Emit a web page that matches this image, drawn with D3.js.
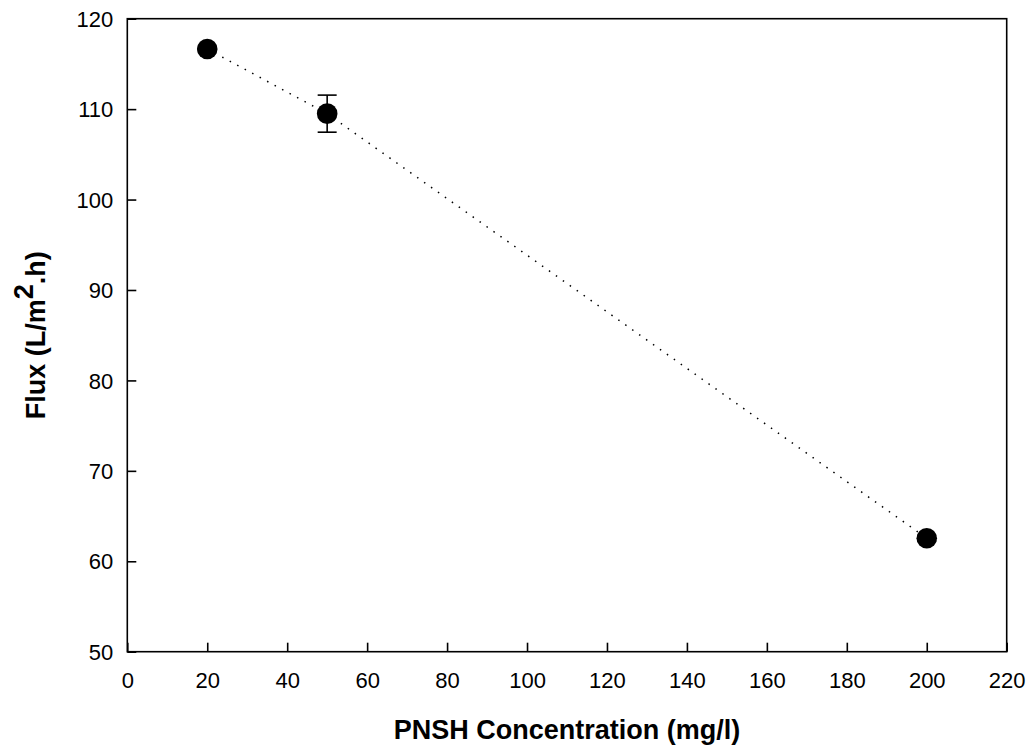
<!DOCTYPE html>
<html><head><meta charset="utf-8">
<script src="https://cdn.jsdelivr.net/npm/d3@7"></script>
<style>body{margin:0;background:#fff}svg{display:block}text{font-family:"Liberation Sans",Arial,sans-serif}</style>
</head><body>
<svg id="c" width="1032" height="746"></svg>
<script>
const concentration = [20, 50, 200];
const flux = [116.65, 109.5, 62.55];
const fluxErr = [0.2, 2.05, 0.3];
const xTicks = [0,20,40,60,80,100,120,140,160,180,200,220];
const yTicks = [50,60,70,80,90,100,110,120];

const svg = d3.select('#c');
const m = {l:127.3, r:1006.7, t:18.7, b:651.7};
const x = d3.scaleLinear().domain([0,220]).range([m.l, m.r]);
const y = d3.scaleLinear().domain([50,120]).range([m.b, m.t]);

// frame
svg.append('rect').attr('x', m.l).attr('y', m.t).attr('width', m.r-m.l).attr('height', m.b-m.t)
  .attr('fill','none').attr('stroke','#000').attr('stroke-width',1.6);

// axes with inward ticks
const xa = svg.append('g').attr('transform',`translate(0,${m.b})`)
  .call(d3.axisBottom(x).tickValues(xTicks).tickSizeInner(-9).tickSizeOuter(0).tickPadding(20));
const ya = svg.append('g').attr('transform',`translate(${m.l},0)`)
  .call(d3.axisLeft(y).tickValues(yTicks).tickSizeInner(-9).tickSizeOuter(0).tickPadding(14));
[xa, ya].forEach(a => {
  a.select('.domain').remove();
  a.selectAll('line').attr('stroke','#000').attr('stroke-width',1.6);
  a.selectAll('text').attr('font-size',22).attr('fill','#000').style('font-family','"Liberation Sans",Arial,sans-serif');
});
xa.selectAll('text').attr('dy', null).attr('y', 36);
ya.selectAll('text').attr('dy','0.35em');

// dotted line
const pts = concentration.map((c,i)=>({c, f:flux[i], e:fluxErr[i]}));
svg.append('path').datum(pts)
  .attr('d', d3.line().x(d=>x(d.c)).y(d=>y(d.f)))
  .attr('fill','none').attr('stroke','#000').attr('stroke-width',1.5)
  .attr('stroke-dasharray','1.5,7');

// error bars
const eb = svg.append('g').attr('stroke','#000').attr('stroke-width',1.6);
pts.forEach(d => {
  eb.append('line').attr('x1',x(d.c)).attr('x2',x(d.c)).attr('y1',y(d.f-d.e)).attr('y2',y(d.f+d.e));
  [d.f-d.e, d.f+d.e].forEach(v => eb.append('line').attr('x1',x(d.c)-9.5).attr('x2',x(d.c)+9.5).attr('y1',y(v)).attr('y2',y(v)));
});

// markers
svg.append('g').selectAll('circle').data(pts).join('circle')
  .attr('cx',d=>x(d.c)).attr('cy',d=>y(d.f)).attr('r',10.3).attr('fill','#000');

// titles
svg.append('text').attr('x',(m.l+m.r)/2).attr('y',739).attr('text-anchor','middle')
  .attr('font-size',27).attr('font-weight','bold').text('PNSH Concentration (mg/l)');
const yt = svg.append('text').attr('transform',`translate(45,${(m.t+m.b)/2}) rotate(-90)`)
  .attr('text-anchor','middle').attr('font-size',27).attr('font-weight','bold');
yt.append('tspan').text('Flux (L/m');
yt.append('tspan').attr('dy',-12).text('2');
yt.append('tspan').attr('dy',12).text('.h)');
</script>
</body></html>
